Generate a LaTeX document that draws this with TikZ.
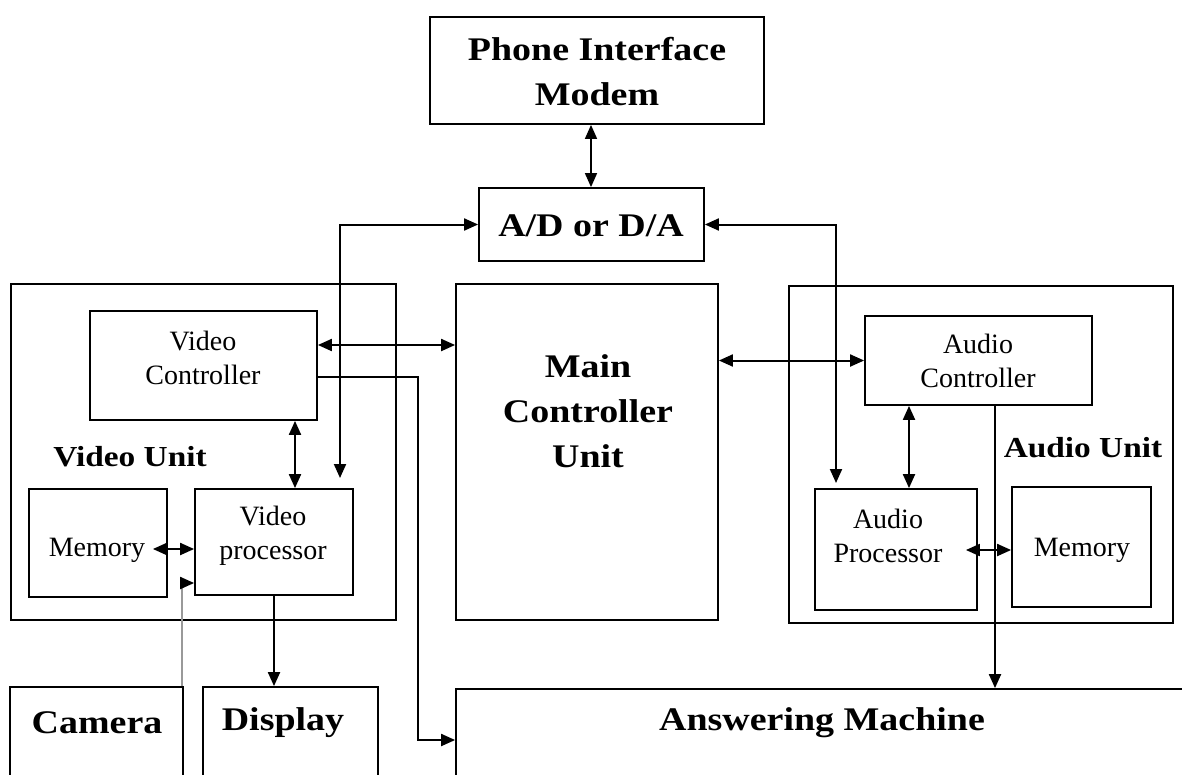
\documentclass[tikz,border=0pt]{standalone}
\usepackage{fontspec}
\setmainfont{Liberation Serif}
\newfontfamily\bigbf{Liberation Serif}[FakeStretch=1.15]
\usetikzlibrary{arrows.meta}
\begin{document}
\begin{tikzpicture}[x=1pt,y=-1pt,
  box/.style={draw, line width=1.8pt, inner sep=0pt},
  bigtxt/.style={font=\bigbf\bfseries\fontsize{33}{45}\selectfont, align=center, inner sep=0pt},
  unittxt/.style={font=\bigbf\bfseries\fontsize{29}{35}\selectfont, inner sep=0pt},
  smalltxt/.style={font=\fontsize{28}{34}\selectfont, align=center, inner sep=0pt},
  tip/.tip={Triangle[length=14pt,width=12pt]},
  conn/.style={line width=2pt, tip-tip},
  conn1/.style={line width=2pt, -tip}
]
\useasboundingbox (0,0) rectangle (1182,774);
\clip (0,0) rectangle (1182,774);
\fill[white] (0,0) rectangle (1182,774);

% boxes
\node[box, minimum width=334pt, minimum height=107pt] (modem) at (597,70.5) {};
\node[box, minimum width=225pt, minimum height=73pt] (ad) at (591.5,224.5) {};
\node[box, minimum width=385pt, minimum height=336pt] (vunit) at (203.5,452) {};
\node[box, minimum width=227pt, minimum height=109pt] (vctrl) at (203.5,365.5) {};
\node[box, minimum width=138pt, minimum height=108pt] (vmem) at (98,543) {};
\node[box, minimum width=158pt, minimum height=106pt] (vproc) at (274,542) {};
\node[box, minimum width=262pt, minimum height=336pt] (main) at (587,452) {};
\node[box, minimum width=384pt, minimum height=337pt] (aunit) at (981,454.5) {};
\node[box, minimum width=227pt, minimum height=89pt] (actrl) at (978.5,360.5) {};
\node[box, minimum width=162pt, minimum height=121pt] (aproc) at (896,549.5) {};
\node[box, minimum width=139pt, minimum height=120pt] (amem) at (1081.5,547) {};
\node[box, minimum width=173pt, minimum height=113pt] (camera) at (96.5,743.5) {};
\node[box, minimum width=175pt, minimum height=113pt] (display) at (290.5,743.5) {};
\node[box, minimum width=744pt, minimum height=111pt] (ans) at (828,744.5) {};

% texts
\node[bigtxt] (modemtxt) at (597,72) {Phone Interface\\Modem};
\node[bigtxt] (adtxt) at (591,226) {A/D or D/A};
\node[bigtxt] (maintxt) at (588,411) {Main\\Controller\\Unit};
\node[bigtxt] (camtxt) at (97,723) {Camera};
\node[bigtxt] (disptxt) at (283,723) {Display};
\node[bigtxt] (anstxt) at (822,723) {Answering Machine};
\node[unittxt] (vunittxt) at (130,457) {Video Unit};
\node[unittxt] (aunittxt) at (1083,448) {Audio Unit};
\node[smalltxt] (vctrltxt) at (203,358) {Video\\Controller};
\node[smalltxt] (vmemtxt) at (97,550) {Memory};
\node[smalltxt] (vproctxt) at (273,536) {Video\\processor};
\node[smalltxt] (actrltxt) at (978,361) {Audio\\Controller};
\node[smalltxt] (aproctxt) at (888,536) {Audio\\Processor};
\node[smalltxt] (amemtxt) at (1082,550) {Memory};

% helper coordinates
\coordinate (vfree) at (340,478);
\coordinate (afree) at (836,483);
\coordinate (l345) at (0,345);
\coordinate (l377) at (0,377);
\coordinate (vbend) at (418,740);
\coordinate (c295) at (295,0);
\coordinate (l549) at (0,549);
\coordinate (c182) at (182,0);
\coordinate (l583) at (0,583);
\coordinate (c909) at (909,0);
\coordinate (l550) at (0,550);
\coordinate (c995) at (995,0);
\coordinate (c591) at (591,0);

% connectors
\draw[conn, line width=1.6pt] (modem.south -| c591) -- (ad.north -| c591);
\draw[conn] (vfree) |- (ad.west);
\draw[conn] (ad.east) -| (afree);
\draw[conn] (vctrl.east |- l345) -- (main.west |- l345);
\draw[conn1] (vctrl.east |- l377) -| (vbend) -- (ans.west |- vbend);
\draw[conn] (vctrl.south -| c295) -- (vproc.north -| c295);
\draw[conn] ([xshift=-15pt]vmem.east |- l549) -- (vproc.west |- l549);
\draw[line width=2pt, draw=gray!80, -{Triangle[length=14pt,width=12pt,color=black]}] (camera.north -| c182) |- (vproc.west |- l583);
\draw[conn1] (vproc.south) -- (vproc.south |- display.north);
\draw[conn] (main.east |- actrl.west) -- (actrl.west);
\draw[conn] (actrl.south -| c909) -- (aproc.north -| c909);
\draw[conn] ([xshift=-12pt]aproc.east |- l550) -- (amem.west |- l550);
\draw[conn1] (actrl.south -| c995) -- (ans.north -| c995);
\end{tikzpicture}
\end{document}
